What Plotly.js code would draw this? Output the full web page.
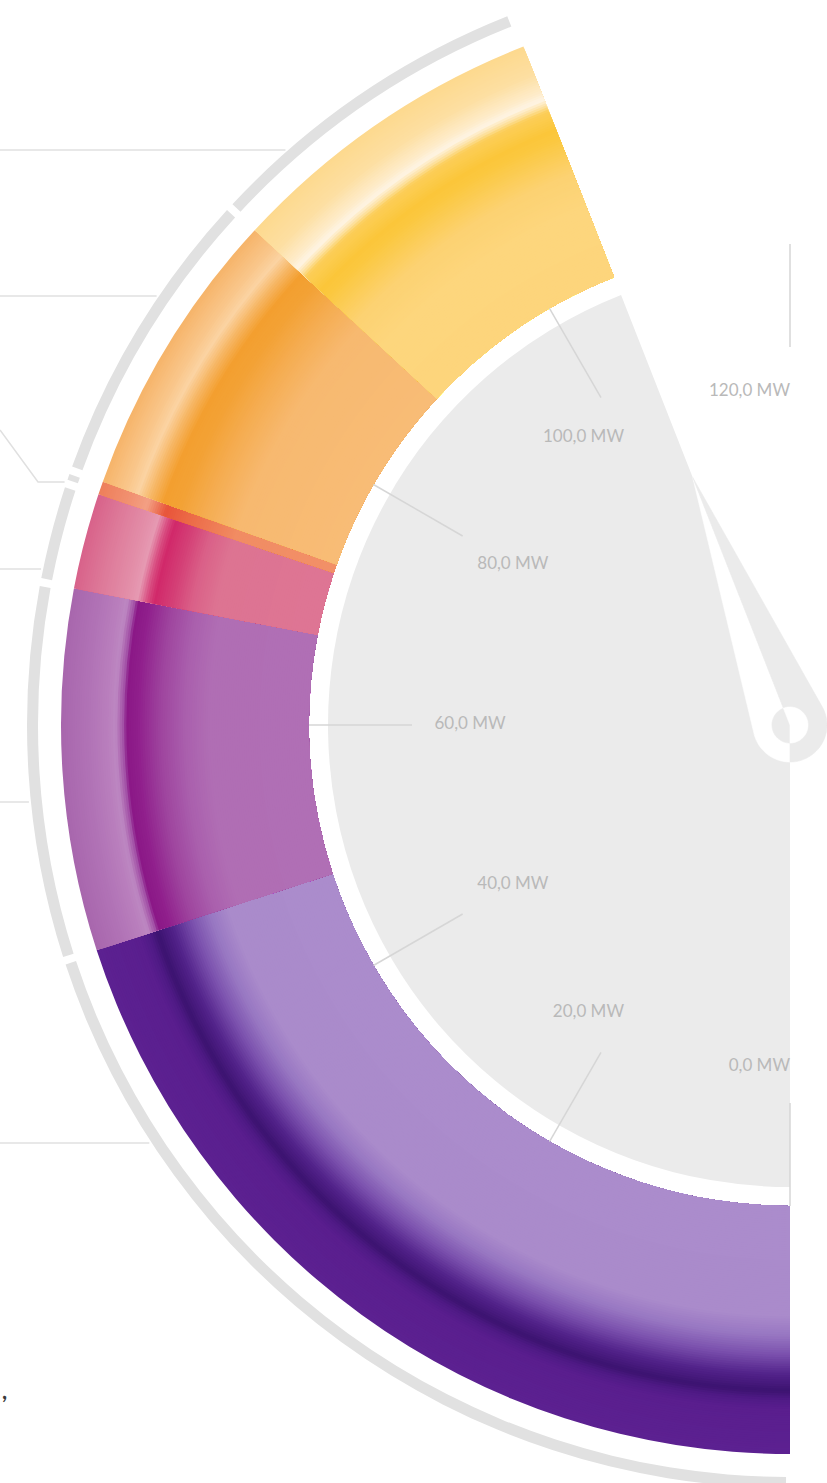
<!DOCTYPE html>
<html><head><meta charset="utf-8">
<script src="https://cdn.plot.ly/plotly-3.0.1.min.js"></script>
<style>
html,body{margin:0;padding:0;width:827px;height:1483px;overflow:hidden;background:#fff;}
#wrap{position:relative;width:827px;height:1483px;overflow:hidden;}
#chart{position:absolute;left:-10px;top:-75px;width:1600px;height:1600px;}
</style></head><body><div id="wrap"><div id="chart"></div></div>
<script>
// ---------------- data ----------------
const axisMin = 0;
const axisMax = 120;
const gaugeValue = 105.7;                       // MW, needle / grey bar
const segmentNames = ['Segment 1','Segment 2','Segment 3','Segment 4','Segment 5','Segment 6'];
const segmentValues = [48.0, 19.2, 5.1, 0.7, 15.5, 17.2];   // MW, stacked from 0
const tickValues = [0, 20, 40, 60, 80, 100, 120];
const tickLabels = ['0,0 MW','20,0 MW','40,0 MW','60,0 MW','80,0 MW','100,0 MW','120,0 MW'];

// ---------------- styles ----------------
const segmentStops = [
  [[0,'#ab8ccc'],[0.44,'#aa8bcb'],[0.52,'#9877c2'],[0.60,'#7a50ad'],[0.68,'#52228a'],[0.745,'#3c1370'],[0.78,'#4f1a86'],[0.82,'#5a1e8e'],[1,'#5c2191']],
  [[0,'#b06fb5'],[0.40,'#b06eb4'],[0.50,'#aa5fad'],[0.60,'#9e449e'],[0.69,'#901f8c'],[0.735,'#8b1887'],[0.75,'#a352a7'],[0.78,'#bd88c2'],[0.81,'#b97fbd'],[0.90,'#b071b5'],[1,'#a866ad']],
  [[0,'#de7594'],[0.42,'#dd7492'],[0.52,'#da6088'],[0.60,'#d43f76'],[0.67,'#d1286a'],[0.70,'#d84c80'],[0.74,'#e699b2'],[0.78,'#e38fa9'],[0.90,'#dd7898'],[1,'#d8628a']],
  [[0,'#f29068'],[0.42,'#f18c63'],[0.62,'#ec6a47'],[0.72,'#e8553a'],[0.80,'#f3a084'],[0.88,'#f19070'],[1,'#ee7f5a']],
  [[0,'#f8bc76'],[0.42,'#f7b970'],[0.56,'#f5ad52'],[0.67,'#f3a236'],[0.74,'#f39f2f'],[0.79,'#f6b35e'],[0.85,'#fbd3a2'],[0.90,'#f9c68a'],[1,'#f6b469']],
  [[0,'#fdd57c'],[0.30,'#fdd67d'],[0.45,'#fcd272'],[0.60,'#fbc840'],[0.64,'#fbc63a'],[0.72,'#fcce58'],[0.745,'#fde3a8'],[0.77,'#fef4e4'],[0.80,'#feecca'],[0.88,'#fddfa2'],[1,'#fdd98e']]
];
const R_DISC = 462, R_IN = 481, R_OUT = 729, R_RING_IN = 752, R_RING_OUT = 763;
const GREY = '#ebebeb', RING_GREY = '#e1e1e1';
const DIV_LEFT = -10, DIV_TOP = -75, DIV_SIZE = 1600;   // polar centre at page (790,725)
const CX = DIV_LEFT + DIV_SIZE/2, CY = DIV_TOP + DIV_SIZE/2;

const toDeg = v => (v - axisMin) / (axisMax - axisMin) * 180;

function hex(h){return [parseInt(h.substr(1,2),16),parseInt(h.substr(3,2),16),parseInt(h.substr(5,2),16)];}
function profile(stops, f){
  for (let i=1;i<stops.length;i++){
    if (f <= stops[i][0]){
      const a=stops[i-1], b=stops[i];
      const t=(f-a[0])/(b[0]-a[0]);
      const ca=hex(a[1]), cb=hex(b[1]);
      return 'rgb('+ca.map((c,k)=>Math.round(c+(cb[k]-c)*t)).join(',')+')';
    }
  }
  return stops[stops.length-1][1];
}

const traces = [];

// grey value sector
traces.push({type:'barpolar', r:[R_DISC], base:[0], theta:[toDeg(gaugeValue)/2], width:[toDeg(gaugeValue)],
  marker:{color:GREY, line:{width:0}}, hoverinfo:'skip'});

// coloured stacked segments with radial shading
const starts = [];
segmentValues.reduce((acc,v)=>{starts.push(acc); return acc+v;}, 0);
const N = 110;
segmentValues.forEach((v,i)=>{
  const th = toDeg(starts[i] + v/2), w = toDeg(starts[i]+v) - toDeg(starts[i]);
  const r=[], base=[], theta=[], width=[], col=[];
  for (let k=0;k<N;k++){
    const outer = R_IN + (R_OUT-R_IN)*(N-k)/N;
    const fMid = ((N-k)-0.5)/N;
    r.push(outer-R_IN); base.push(R_IN); theta.push(th); width.push(w); col.push(profile(segmentStops[i], fMid));
  }
  traces.push({type:'barpolar', name:segmentNames[i], r, base, theta, width, marker:{color:col, line:{width:0}}, hoverinfo:'skip'});
});

// outer grey ring, one arc per segment
(function(){
  const r=[], base=[], theta=[], width=[];
  segmentValues.forEach((v,i)=>{
    const a=toDeg(starts[i]), b=toDeg(starts[i]+v), gap=0.6;
    theta.push((a+b)/2); width.push(Math.max(b-a-gap,0.3)); base.push(R_RING_IN); r.push(R_RING_OUT-R_RING_IN);
  });
  traces.push({type:'barpolar', r, base, theta, width, marker:{color:RING_GREY, line:{width:0}}, hoverinfo:'skip'});
})();

// tick lines
(function(){
  const r=[], theta=[];
  tickValues.forEach(t=>{ r.push(378, R_IN, null); theta.push(toDeg(t), toDeg(t), null); });
  traces.push({type:'scatterpolar', mode:'lines', r, theta, line:{color:'#d6d6d6', width:1.5}, hoverinfo:'skip', connectgaps:false});
})();

// tick labels
function labelPlace(d){
  if (d >= 45 && d <= 135) return [320, 'middle center'];
  if (d > 170) return [342, 'bottom left'];
  if (d < 10) return [342, 'middle left'];
  return [332, 'middle left'];
}
traces.push({type:'scatterpolar', mode:'text',
  r: tickValues.map(t=>labelPlace(toDeg(t))[0]),
  theta: tickValues.map(toDeg),
  text: tickLabels,
  textposition: tickValues.map(t=>labelPlace(toDeg(t))[1]),
  textfont:{family:'Lato, sans-serif', size:17, color:'#b9b9b9'}, hoverinfo:'skip'});

// needle: split along the value line; inner face white on grey, outer face grey on white
(function(){
  const tipR=266, hubR=37, holeR=18, thV=toDeg(gaugeValue);
  const alpha = Math.acos(hubR/tipR)*180/Math.PI;
  function arc(rad, a0, a1, n){ const r=[], t=[]; for(let s=0;s<=n;s++){ r.push(rad); t.push(a0+(a1-a0)*s/n);} return [r,t]; }
  function poly(rArr, tArr, color){
    traces.push({type:'scatterpolar', mode:'lines', r:rArr, theta:tArr, fill:'toself', fillcolor:color,
      line:{color:color, width:0.6}, hoverinfo:'skip'});
  }
  let a = arc(hubR, thV-alpha, 0, 40);
  poly([0, tipR].concat(a[0], [0]), [thV, thV].concat(a[1], [0]), '#ffffff');
  a = arc(hubR, thV+alpha, 360, 40);
  poly([0, tipR].concat(a[0], [0]), [thV, thV].concat(a[1], [0]), GREY);
  a = arc(holeR, 0, thV, 40);
  poly([0].concat(a[0], [0]), [0].concat(a[1], [0]), GREY);
  a = arc(holeR, thV, 360, 40);
  poly([0].concat(a[0], [0]), [0].concat(a[1], [0]), '#ffffff');
})();

// leader lines to (off-page) labels
const px2x = px => (px - DIV_LEFT)/DIV_SIZE;
const py2y = py => 1 - (py - DIV_TOP)/DIV_SIZE;
const leaderR = 765;
const ringX = py => CX - Math.sqrt(leaderR*leaderR - (py-CY)*(py-CY));
const shapes = [150, 296, 569, 802, 1143].map(py=>({type:'line', xref:'paper', yref:'paper',
  x0:px2x(0), y0:py2y(py), x1:px2x(ringX(py)), y1:py2y(py), line:{color:'#e0e0e0', width:1.5}}));
shapes.push({type:'path', xref:'paper', yref:'paper',
  path:'M '+px2x(0)+' '+py2y(430)+' L '+px2x(38)+' '+py2y(482)+' L '+px2x(ringX(482))+' '+py2y(482),
  line:{color:'#e0e0e0', width:1.5}});

const layout = {
  width: DIV_SIZE, height: DIV_SIZE,
  margin:{l:0,r:0,t:0,b:0,pad:0},
  paper_bgcolor:'#ffffff', plot_bgcolor:'#ffffff',
  showlegend:false,
  polar:{
    domain:{x:[0,1], y:[0,1]},
    bgcolor:'rgba(0,0,0,0)',
    barmode:'overlay', bargap:0,
    radialaxis:{visible:false, range:[0, DIV_SIZE/2]},
    angularaxis:{visible:false, rotation:270, direction:'clockwise', thetaunit:'degrees'}
  },
  shapes: shapes,
  annotations:[{xref:'paper', yref:'paper', x:px2x(0), y:py2y(1390), xanchor:'left', yanchor:'middle',
    text:'<b>,</b>', showarrow:false, font:{family:'Lato, sans-serif', size:22, color:'#3a3a3a'}}]
};

Plotly.newPlot('chart', traces, layout, {staticPlot:true, displayModeBar:false});
</script></body></html>
